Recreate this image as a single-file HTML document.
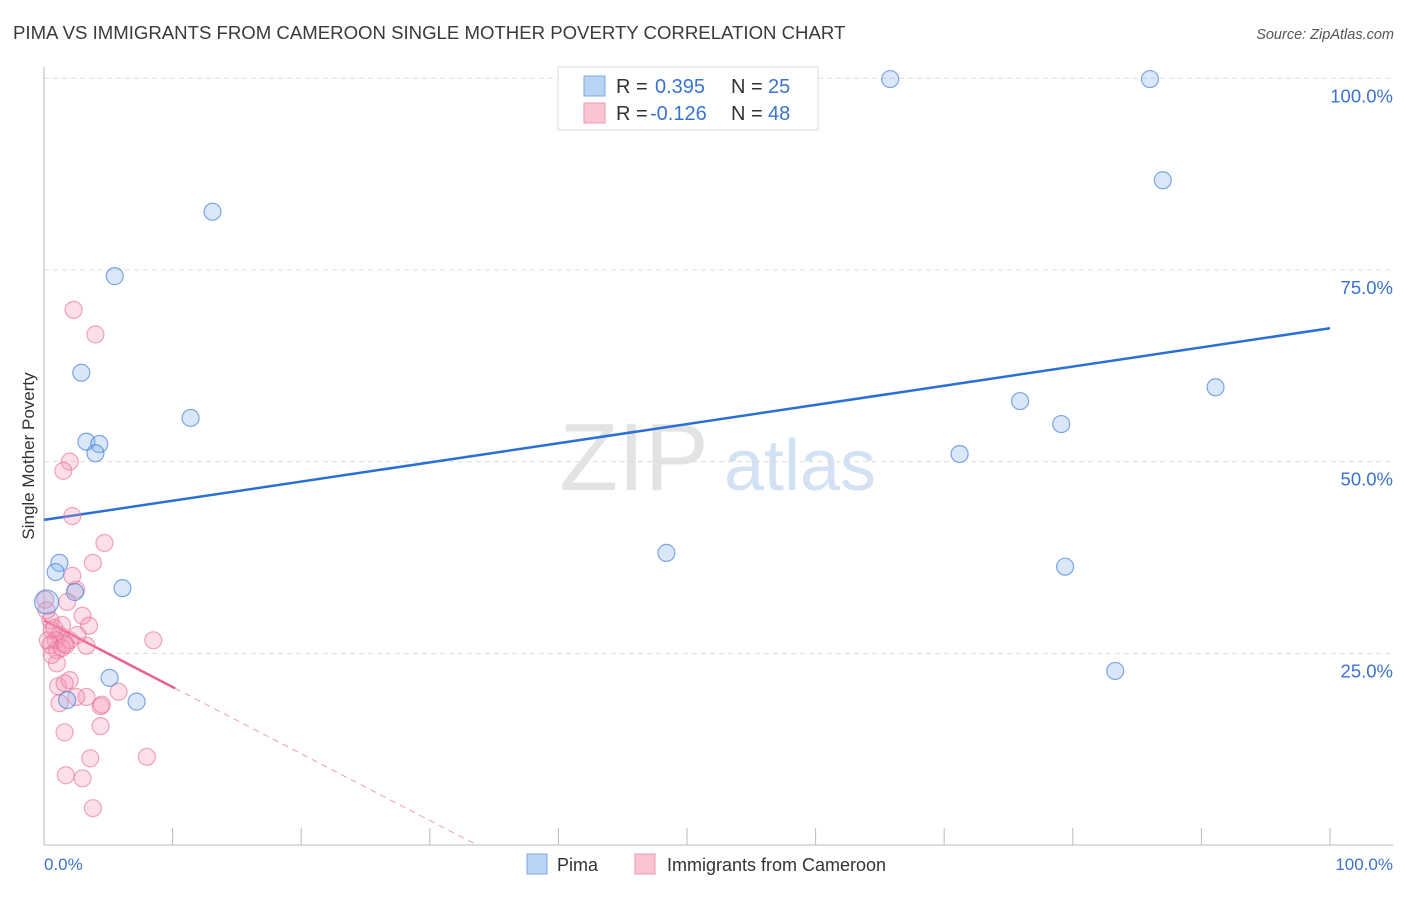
<!DOCTYPE html>
<html><head><meta charset="utf-8"><style>
body{margin:0;background:#fff;font-family:"Liberation Sans",sans-serif;}
svg text{font-family:"Liberation Sans",sans-serif;}
</style></head><body>
<svg id="chart" width="1406" height="892" viewBox="0 0 1406 892" xmlns="http://www.w3.org/2000/svg">
<text x="13" y="39" font-size="18.6" fill="#3a3a3a">PIMA VS IMMIGRANTS FROM CAMEROON SINGLE MOTHER POVERTY CORRELATION CHART</text>
<text x="1394" y="39" font-size="14.5" fill="#555" font-style="italic" text-anchor="end">Source: ZipAtlas.com</text>
<text x="634" y="490" font-size="96" fill="#ddd" font-family="Liberation Serif" text-anchor="middle" opacity="0.8">ZIP</text>
<text x="800" y="490" font-size="72" fill="#c9daf2" text-anchor="middle" opacity="0.8">atlas</text>
<g id="grid"></g>
<g id="axes"></g>
<g id="lines"></g>
<g id="pts"></g>
<text transform="translate(34,456) rotate(-90)" font-size="17" fill="#333" text-anchor="middle">Single Mother Poverty</text>
<text x="44" y="870" font-size="17" fill="#3b73d0">0.0%</text>
<text x="1393" y="870" font-size="17" fill="#3b73d0" text-anchor="end">100.0%</text>
<g>
<rect x="558" y="67" width="260" height="63" fill="#fff" stroke="#ddd"/>
<rect x="584" y="76" width="21" height="20" fill="#b9d3f5" stroke="#7fa9e6"/>
<rect x="584" y="103" width="21" height="20" fill="#f9c5d3" stroke="#ee9ab3"/>
<text x="616" y="93" font-size="20" fill="#333">R = </text><text x="655" y="93" font-size="20" fill="#3b73d0">0.395</text>
<text x="731" y="93" font-size="20" fill="#333">N = </text><text x="768" y="93" font-size="20" fill="#3b73d0">25</text>
<text x="616" y="120" font-size="20" fill="#333">R = </text><text x="650" y="120" font-size="20" fill="#3b73d0">-0.126</text>
<text x="731" y="120" font-size="20" fill="#333">N = </text><text x="768" y="120" font-size="20" fill="#3b73d0">48</text>
</g>
<g>
<rect x="527" y="854" width="20" height="20" fill="#b9d3f5" stroke="#7fa9e6"/>
<text x="557" y="871" font-size="18" fill="#333">Pima</text>
<rect x="635" y="854" width="20" height="20" fill="#f9c5d3" stroke="#ee9ab3"/>
<text x="667" y="871" font-size="18" fill="#333">Immigrants from Cameroon</text>
</g>
</svg>
<script>
const yTicks=[25,50,75,100];
const yTickLabels=["25.0%","50.0%","75.0%","100.0%"];
const xTicks=[10,20,30,40,50,60,70,80,90,100];
const pimaX=[65.8,86.0,87.0,13.1,5.5,2.9,11.4,3.3,4.3,4.0,75.9,79.1,91.1,71.2,48.4,79.4,83.3,1.2,0.9,2.4,6.1,5.1,7.2,1.8,0.2];
const pimaY=[99.9,99.9,86.7,82.6,74.2,61.6,55.7,52.6,52.3,51.1,57.9,54.9,59.7,51.0,38.1,36.3,22.7,36.8,35.6,33.0,33.5,21.8,18.7,18.9,31.7];
const camX=[2.3,4.0,2.0,1.5,2.2,4.7,3.8,2.2,2.5,1.8,3.0,3.5,1.4,0.6,1.2,0.9,2.0,3.3,8.5,0.5,1.0,1.6,1.0,1.1,2.0,1.6,3.3,2.5,1.2,5.8,4.4,4.5,1.6,4.4,3.6,8.0,1.7,3.0,3.8,0.3,0.5,0.1,0.6,1.4,2.6,1.7,0.8,0.2];
const camY=[69.8,66.6,50.0,48.8,42.9,39.4,36.8,35.1,33.3,31.7,29.9,28.6,28.7,28.0,27.4,26.7,26.7,26.0,26.7,26.1,25.4,26.3,23.7,20.7,21.5,21.1,19.3,19.3,18.5,20.0,18.1,18.3,14.7,15.5,11.3,11.5,9.1,8.7,4.8,26.7,29.3,32.0,24.8,25.7,27.4,26.1,28.3,30.6];
const pimaTrend=[42.4,67.4];
const camTrend=[29.3,-0.87];
const camSolidEnd=10.2, camDashEnd=33.5;
const NS="http://www.w3.org/2000/svg";
const X=v=>44+v*12.86, Y=v=>845-v*7.667;
function mk(t,a,p){const e=document.createElementNS(NS,t);for(const k in a)e.setAttribute(k,a[k]);p.appendChild(e);return e;}
const grid=document.getElementById('grid'),axes=document.getElementById('axes'),lines=document.getElementById('lines'),pts=document.getElementById('pts');
yTicks.forEach((t,i)=>{
 const l=mk('line',{x1:44,x2:1393,y1:Y(t),y2:Y(t),stroke:'#ddd','stroke-dasharray':'5,4'},grid);
 
 
 const tx=mk('text',{x:1393,y:Y(t)+24,'font-size':18.5,fill:'#3b73d0','text-anchor':'end'},axes);
 tx.textContent=yTickLabels[i];
 
 
});
const ya=mk('line',{x1:44,x2:44,y1:67,y2:845,stroke:'#bbb'},axes);


const xa=mk('line',{x1:44,x2:1393,y1:845,y2:845,stroke:'#bbb'},axes);


xTicks.forEach(t=>{const l=mk('line',{x1:X(t),x2:X(t),y1:828,y2:845,stroke:'#bbb'},axes);
 
 });
const bl=mk('line',{x1:X(0),y1:Y(pimaTrend[0]),x2:X(100),y2:Y(pimaTrend[1]),stroke:'#2a6fd6','stroke-width':2.5},lines);


const cy=x=>camTrend[0]+camTrend[1]*x;
const pl=mk('line',{x1:X(0),y1:Y(cy(0)),x2:X(camSolidEnd),y2:Y(cy(camSolidEnd)),stroke:'#e8638e','stroke-width':2.5},lines);


const pd=mk('line',{x1:X(camSolidEnd),y1:Y(cy(camSolidEnd)),x2:X(camDashEnd),y2:Y(cy(camDashEnd)),stroke:'#ee9ab3','stroke-width':1,'stroke-dasharray':'6,5'},lines);


camX.forEach((x,i)=>{const c=mk('circle',{cx:X(x),cy:Y(camY[i]),r:8.5,fill:'rgba(244,150,180,0.3)',stroke:'rgba(232,110,150,0.6)','stroke-width':1.2},pts);
 
 });
pimaX.forEach((x,i)=>{const c=mk('circle',{cx:X(x),cy:Y(pimaY[i]),r:i==24?12:8.5,fill:'rgba(130,175,235,0.3)',stroke:'rgba(60,125,215,0.65)','stroke-width':1.2},pts);
 
 });
</script>
</body></html>
